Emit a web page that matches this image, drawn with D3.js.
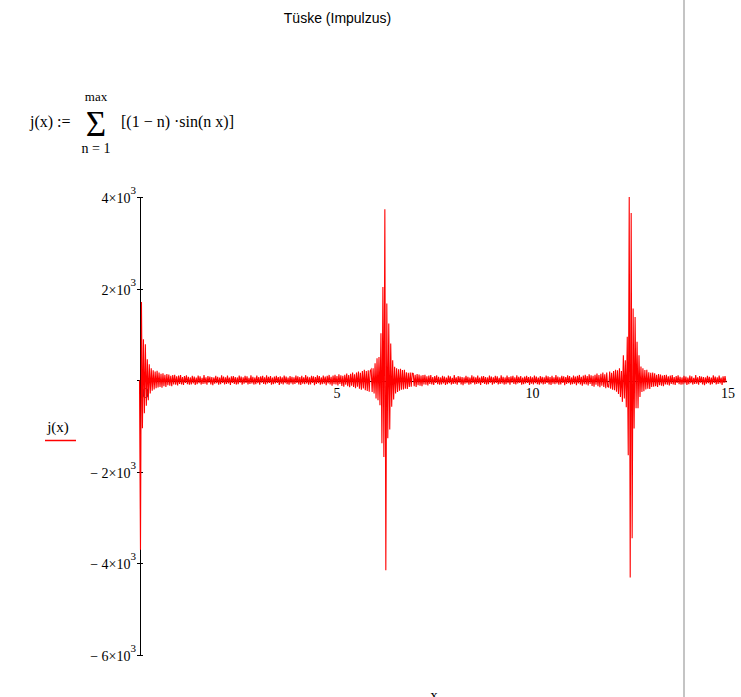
<!DOCTYPE html>
<html><head><meta charset="utf-8">
<script src="https://cdn.jsdelivr.net/npm/d3@7"></script>
<style>body{margin:0;background:#fff;overflow:hidden}</style>
</head><body><svg id="c" width="741" height="697"></svg>
<script>
const chartTitle = "Tüske (Impulzus)";
const formulaLeft = "j(x) :=";
const formulaBody = "[(1 \u2212 n) \u00b7sin(n x)]";
const sumUpper = "max";
const sumLower = "n = 1";
const yAxisTitle = "j(x)";
const xAxisTitle = "x";
const xDomain = [0, 15];
const xStep = 0.025;
const xTickValues = [0, 5, 10, 15];
const xTickLabels = ["0", "5", "10", "15"];
const yDomain = [-6000, 4000];
const yTickValues = [4000, 2000, 0, -2000, -4000, -6000];
const yTickMantissas = ["4", "2", "", "\u2212 2", "\u2212 4", "\u2212 6"];
const yTickExponent = "3";
const jValues = [
  0, -3700, 1709, -1048, 895, -720, 786, -560, 458, -436, 349, -290, 262, -230, 218, -200, 190, -175, 205, -160,
  170, -150, 140, -165, 150, -130, 120, -145, 135, -110, 125, -120, 95, -130, 110, -90, 120, -100, 85, -115,
  100, -80, 110, -95, 70, -105, 90, -60, 105, -85, 75, -100, 60, -90, 95, -70, 80, -105, 55, -85,
  100, -65, 85, -95, 50, -80, 110, -75, 65, -100, 90, -55, 80, -90, 70, -110, 60, -75, 95, -65,
  75, -100, 55, -85, 105, -60, 80, -95, 65, -80, 100, -70, 55, -105, 85, -60, 90, -80, 70, -95,
  60, -85, 100, -55, 80, -100, 65, -75, 95, -60, 85, -90, 50, -80, 105, -70, 75, -95, 60, -85,
  100, -65, 70, -100, 85, -55, 95, -80, 60, -90, 105, -70, 75, -60, 90, -100, 55, -85, 80, -70,
  95, -60, 70, -105, 85, -75, 60, -90, 100, -65, 80, -85, 55, -100, 90, -70, 75, -95, 65, -80,
  100, -60, 85, -90, 70, -105, 95, -75, 60, -85, 110, -70, 80, -100, 65, -90, 95, -60, 85, -110,
  70, -80, 105, -65, 90, -100, 60, -85, 100, -75, 80, -110, 95, -70, 115, -90, 75, -120, 100, -85,
  120, -95, 90, -115, 130, -80, 105, -125, 95, -140, 120, -100, 145, -130, 110, -155, 140, -120, 165, -150,
  130, -175, 170, -140, 190, -185, 160, -210, 200, -180, 230, -220, 200, -235, 215, -250, 205, 240, -255,
  262, -290, 371, -400, 480, -436, 509, -545, 1026, -1376, 2037, -1675, 3733, -4148, 1674, -1266, 1237, -1077, 800, -582,
  436, -422, 291, -291, 262, -255, 240, -230, 250, -210, 220, -200, 230, -185, 175, -190, 160, -150, 170, -140, 155,
  150, -130, 120, -145, 135, -110, 125, -120, 100, -130, 110, -95, 120, -100, 85, -115, 100, -80, 110, -95,
  70, -105, 90, -60, 105, -85, 75, -100, 60, -90, 95, -70, 80, -105, 55, -85, 100, -65, 85, -95,
  50, -80, 110, -75, 65, -100, 90, -55, 80, -90, 70, -110, 60, -75, 95, -65, 75, -100, 55, -85,
  105, -60, 80, -95, 65, -80, 100, -70, 55, -105, 85, -60, 90, -80, 70, -95, 60, -85, 100, -55,
  80, -100, 65, -75, 95, -60, 85, -90, 50, -80, 105, -70, 75, -95, 60, -85, 100, -65, 70, -100,
  85, -55, 95, -80, 60, -90, 105, -70, 75, -60, 90, -100, 55, -85, 80, -70, 95, -60, 70, -105,
  85, -75, 60, -90, 100, -65, 80, -85, 55, -100, 90, -70, 75, -95, 65, -80, 100, -60, 85, -90,
  70, -105, 95, -75, 60, -85, 110, -70, 80, -100, 65, -90, 95, -60, 85, -110, 70, -80, 105, -65,
  90, -100, 60, -85, 100, -75, 80, -110, 95, -70, 115, -90, 75, -120, 100, -85, 120, -95, 90, -115,
  130, -80, 105, -125, 95, -140, 120, -100, 145, -130, 110, -155, 140, -120, 165, -150, 130, -175, 170, -140,
  -150, 190, -185, 160, -210, 200, -220, 230, -250, 218, -300, 262, -364, 200, -473, 546, -400, 437, -590, 946,
  -1637, 4002, -4308, 3652, -3450, 1565, -1055, 1382, -611, 837, -611, 546, -364, 300, -255, 262, -240, 220, -200, 230,
  -185, 175, -190, 160, -150, 170, -140, 150, -130, 120, -145, 135, -110, 125, -120, 100, -130, 110, -95, 120,
  -100, 85, -115, 100, -80, 110, -95, 70, -105, 90, -60, 105, -85, 75, -100, 60, -90, 95, -70, 80,
  -105, 55, -85, 100, -65, 85, -95, 50, -80, 110, -75, 65, -100, 90, -55, 80, -90, 70, -110, 60,
  -75, 95, -65, 75, -100, 55, -85, 105, -60, 80, -95, 65, -80, 100, -70, 55, -105, 85, -60, 90,
  -50
];

const svg = d3.select("#c");
const serif = "'Liberation Serif','Times New Roman',serif";
const sans = "'Liberation Sans',Arial,sans-serif";

const x = d3.scaleLinear().domain(xDomain).range([139.5, 726]);
const y = d3.scaleLinear().domain(yDomain).range([655, 197]);

// right-side page separator
svg.append("rect").attr("x", 683).attr("y", 0).attr("width", 2).attr("height", 697).attr("fill", "#c4c4c4");

// title
svg.append("text").attr("x", 337.5).attr("y", 23).attr("text-anchor", "middle")
  .attr("font-family", sans).attr("font-size", 14).attr("fill", "#000").text(chartTitle);

// formula
const f = svg.append("g").attr("font-family", serif).attr("fill", "#000");
f.append("text").attr("x", 30).attr("y", 127).attr("font-size", 16).text(formulaLeft);
f.append("text").attr("x", 96).attr("y", 136).attr("text-anchor", "middle").attr("font-size", 35).text("\u03a3");
f.append("text").attr("x", 96).attr("y", 101).attr("text-anchor", "middle").attr("font-size", 13).text(sumUpper);
f.append("text").attr("x", 96).attr("y", 153).attr("text-anchor", "middle").attr("font-size", 14).text(sumLower);
f.append("text").attr("x", 121).attr("y", 127).attr("font-size", 16).text(formulaBody);

// axes
const y0 = Math.round(y(0)) + 0.5;
const xAxisG = svg.append("g").attr("transform", `translate(0,${y0})`).attr("shape-rendering", "crispEdges")
  .call(d3.axisBottom(x).tickValues([]).tickSizeOuter(0));
xAxisG.select(".domain").attr("stroke", "#000");

const axX = 139.5;
const yAxisL = svg.append("g").attr("transform", `translate(${axX},0)`).attr("shape-rendering", "crispEdges")
  .call(d3.axisLeft(y).tickValues(yTickValues).tickSizeInner(3).tickSizeOuter(0).tickFormat(""));
const yAxisR = svg.append("g").attr("transform", `translate(${axX},0)`).attr("shape-rendering", "crispEdges")
  .call(d3.axisRight(y).tickValues(yTickValues).tickSizeInner(3).tickSizeOuter(0).tickFormat(""));
yAxisR.select(".domain").remove();
svg.selectAll(".tick line").attr("stroke", "#000");

// y tick labels
yTickValues.forEach((v, i) => {
  if (!yTickMantissas[i]) return;
  const t = svg.append("text").attr("x", 136).attr("y", y(v) + 6).attr("text-anchor", "end")
    .attr("font-family", serif).attr("font-size", 14).attr("fill", "#000");
  t.append("tspan").text(yTickMantissas[i] + "\u00d710");
  t.append("tspan").attr("dy", -9).attr("font-size", 11).text(yTickExponent);
});

// x tick labels
xTickValues.forEach((v, i) => {
  const px = Math.max(x(v) + 2, axX + 6);
  svg.append("text").attr("x", px).attr("y", 398).attr("text-anchor", "middle")
    .attr("font-family", serif).attr("font-size", 14).attr("fill", "#000").text(xTickLabels[i]);
});

// trace
const line = d3.line().x((d, i) => x(i * xStep)).y(d => y(d));
svg.append("path").datum(jValues).attr("d", line).attr("fill", "none")
  .attr("stroke", "#ff0000").attr("stroke-width", 1.1).attr("stroke-linejoin", "miter");

// axis titles
svg.append("text").attr("x", 58).attr("y", 432).attr("text-anchor", "middle")
  .attr("font-family", serif).attr("font-size", 15).attr("fill", "#000").text(yAxisTitle);
svg.append("line").attr("x1", 45).attr("x2", 76).attr("y1", 440.5).attr("y2", 440.5)
  .attr("stroke", "#ff0000").attr("stroke-width", 1.5);
svg.append("text").attr("x", 434).attr("y", 700).attr("text-anchor", "middle")
  .attr("font-family", serif).attr("font-size", 15).attr("fill", "#000").text(xAxisTitle);
</script>
</body></html>
